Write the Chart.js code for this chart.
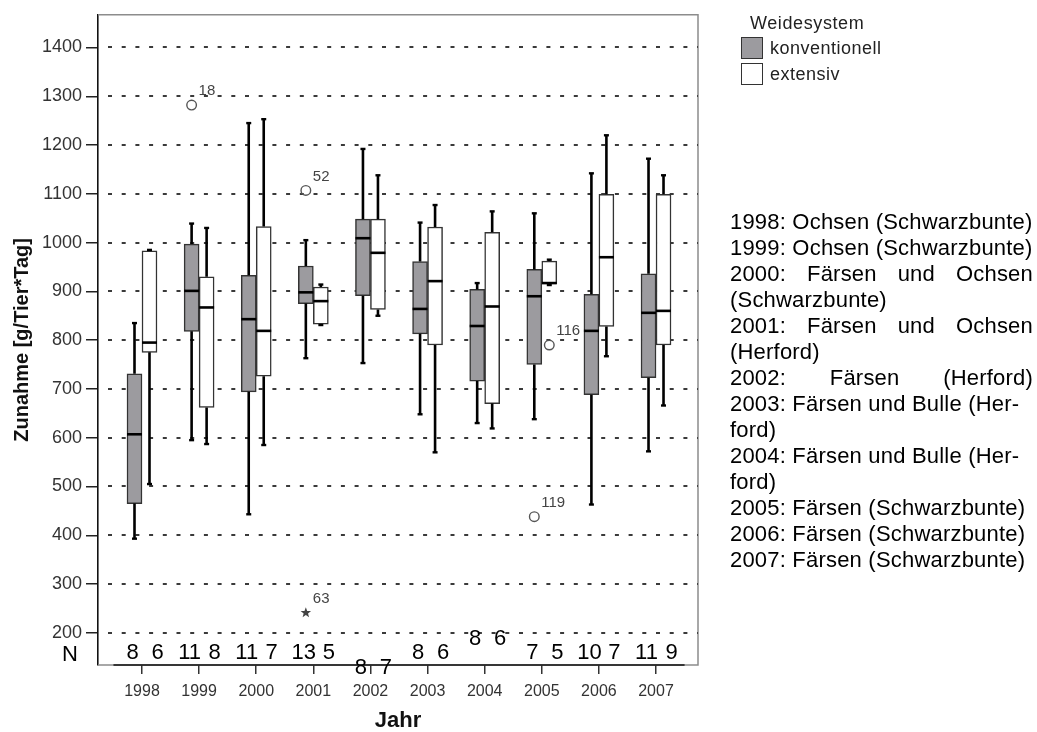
<!DOCTYPE html>
<html>
<head>
<meta charset="utf-8">
<script src="https://cdn.jsdelivr.net/npm/chart.js@4.4.0/dist/chart.umd.min.js"></script>
<style>
  html, body { margin: 0; padding: 0; background: #fff; }
  #wrap { position: relative; width: 1037px; height: 732px; font-family: "Liberation Sans", Arial, sans-serif; }
  #chart { position: absolute; left: 0; top: 0; }
  .legend-title { position: absolute; left: 750px; top: 13px; font-size: 18px; line-height: 20px; color: #222; letter-spacing: 0.6px; }
  .legend-row { position: absolute; left: 741px; height: 22px; font-size: 18px; line-height: 22px; color: #222; letter-spacing: 0.5px; }
  .legend-row .sw { position: absolute; left: 0; top: 0; width: 22px; height: 22px; box-sizing: border-box; border: 1.5px solid #333; }
  .legend-row span { position: absolute; left: 29px; top: 0; white-space: nowrap; }
  #notes { position: absolute; left: 730px; top: 209px; width: 303px; font-size: 22px; line-height: 26px; color: #000; letter-spacing: 0.2px; }
  #notes div { white-space: nowrap; }
  #notes div.j { text-align: justify; text-align-last: justify; }
</style>
</head>
<body>
<div id="wrap">
  <canvas id="chart" width="1037" height="732"></canvas>
  <div class="legend-title">Weidesystem</div>
  <div class="legend-row" style="top:37px"><div class="sw" style="background:#9c9b9f"></div><span>konventionell</span></div>
  <div class="legend-row" style="top:63px"><div class="sw" style="background:#fff"></div><span>extensiv</span></div>
  <div id="notes"></div>
</div>
<script>
// Jahre (x-Kategorien)
const years = ['1998', '1999', '2000', '2001', '2002', '2003', '2004', '2005', '2006', '2007'];

// Weidesystem konventionell
const konvMin    = [393, 595, 443, 763, 753, 648, 630, 638, 463, 572];
const konvQ1     = [465, 818, 694, 875, 891, 813, 716, 750, 688, 723];
const konvMedian = [607, 901, 843, 898, 1009, 864, 829, 890, 819, 856];
const konvQ3     = [731, 997, 933, 952, 1048, 961, 904, 945, 894, 936];
const konvMax    = [835, 1039, 1245, 1005, 1192, 1041, 917, 1060, 1142, 1172];
const konvN      = [8, 11, 11, 13, 8, 8, 8, 7, 10, 11];

// Weidesystem extensiv
const extMin    = [505, 587, 585, 831, 850, 570, 619, 913, 767, 666];
const extQ1     = [775, 662, 726, 833, 863, 790, 670, 916, 828, 790];
const extMedian = [795, 867, 819, 880, 979, 921, 869, 917, 970, 860];
const extQ3     = [983, 930, 1033, 909, 1048, 1032, 1021, 962, 1099, 1099];
const extMax    = [985, 1030, 1253, 914, 1138, 1077, 1064, 965, 1220, 1138];
const extN      = [6, 8, 7, 5, 7, 6, 6, 5, 7, 9];

// Ausreisser: Jahr, Gruppe (0 = konventionell, 1 = extensiv), Wert, Fallnummer, Symbol
const outlierYear  = ['1999', '2001', '2001', '2005', '2005'];
const outlierGroup = [0, 0, 0, 1, 0];
const outlierValue = [1282, 1107, 241, 790, 438];
const outlierCase  = ['18', '52', '63', '116', '119'];
const outlierKind  = ['circle', 'circle', 'star', 'circle', 'circle'];

const yTicks = [200, 300, 400, 500, 600, 700, 800, 900, 1000, 1100, 1200, 1300, 1400];

const noteLines = [
    ['1998: Ochsen (Schwarzbunte)', false],
    ['1999: Ochsen (Schwarzbunte)', false],
    ['2000: Färsen und Ochsen', true],
    ['(Schwarzbunte)', false],
    ['2001: Färsen und Ochsen', true],
    ['(Herford)', false],
    ['2002: Färsen (Herford)', true],
    ['2003: Färsen und Bulle (Her-', false],
    ['ford)', false],
    ['2004: Färsen und Bulle (Her-', false],
    ['ford)', false],
    ['2005: Färsen (Schwarzbunte)', false],
    ['2006: Färsen (Schwarzbunte)', false],
    ['2007: Färsen (Schwarzbunte)', false]
];

const notes = document.getElementById('notes');
noteLines.forEach(([text, justify]) => {
    const d = document.createElement('div');
    d.textContent = text;
    if (justify) d.className = 'j';
    notes.appendChild(d);
});

const FONT = '"Liberation Sans", Arial, sans-serif';
// N-Beschriftungen: kleine vertikale Verschiebung wie im Original
const nShift = [0, 0, 0, 0, 15, 0, -14, 0, 0, 0];

const groups = [
    { min: konvMin, q1: konvQ1, med: konvMedian, q3: konvQ3, max: konvMax, n: konvN },
    { min: extMin, q1: extQ1, med: extMedian, q3: extQ3, max: extMax, n: extN }
];

function drawStar(ctx, cx, cy, r) {
    ctx.beginPath();
    for (let k = 0; k < 10; k++) {
        const rad = k % 2 === 0 ? r : r * 0.42;
        const ang = -Math.PI / 2 + k * Math.PI / 5;
        const px = cx + rad * Math.cos(ang), py = cy + rad * Math.sin(ang);
        k === 0 ? ctx.moveTo(px, py) : ctx.lineTo(px, py);
    }
    ctx.closePath();
    ctx.fill();
}

const boxExtras = {
    id: 'boxExtras',
    beforeDatasetsDraw(chart) {
        const { ctx, chartArea: a, scales: { x, y } } = chart;
        ctx.save();
        // Rahmen oben / rechts
        ctx.strokeStyle = '#8c8c8c';
        ctx.lineWidth = 1.5;
        ctx.beginPath();
        ctx.moveTo(a.left, a.top);
        ctx.lineTo(a.right, a.top);
        ctx.lineTo(a.right, a.bottom);
        ctx.lineTo(a.left, a.bottom);
        ctx.stroke();
        // gepunktete Hilfslinien
        ctx.strokeStyle = '#3a3a3a';
        ctx.lineWidth = 2.2;
        ctx.setLineDash([4, 9.7]);
        y.ticks.forEach(t => {
            const py = Math.round(y.getPixelForValue(t.value));
            ctx.beginPath();
            ctx.moveTo(a.left + 10, py);
            ctx.lineTo(a.right, py);
            ctx.stroke();
        });
        ctx.setLineDash([]);
        // x-Achse ueber die Kategorien
        ctx.strokeStyle = '#111';
        ctx.lineWidth = 1.6;
        ctx.beginPath();
        ctx.moveTo(x.getPixelForValue(-0.5), a.bottom);
        ctx.lineTo(x.getPixelForValue(years.length - 0.5), a.bottom);
        ctx.stroke();
        ctx.restore();
    },
    afterDatasetsDraw(chart) {
        const { ctx, chartArea: a, scales: { y } } = chart;
        ctx.save();
        groups.forEach((g, d) => {
            const meta = chart.getDatasetMeta(d);
            meta.data.forEach((bar, i) => {
                const { x: cx, width: w } = bar.getProps(['x', 'width'], true);
                // Whisker
                ctx.strokeStyle = '#000';
                ctx.lineWidth = 2.6;
                ctx.beginPath();
                ctx.moveTo(cx, y.getPixelForValue(g.q3[i]));
                ctx.lineTo(cx, y.getPixelForValue(g.max[i]));
                ctx.moveTo(cx, y.getPixelForValue(g.q1[i]));
                ctx.lineTo(cx, y.getPixelForValue(g.min[i]));
                ctx.stroke();
                // Endstriche
                ctx.lineWidth = 2.4;
                [g.min[i], g.max[i]].forEach(v => {
                    const py = y.getPixelForValue(v);
                    ctx.beginPath();
                    ctx.moveTo(cx - 2.5, py);
                    ctx.lineTo(cx + 2.5, py);
                    ctx.stroke();
                });
                // Median
                ctx.lineWidth = 2.6;
                const pm = y.getPixelForValue(g.med[i]);
                ctx.beginPath();
                ctx.moveTo(cx - w / 2, pm);
                ctx.lineTo(cx + w / 2, pm);
                ctx.stroke();
                // N
                ctx.fillStyle = '#000';
                ctx.font = '22px ' + FONT;
                ctx.textAlign = 'center';
                ctx.textBaseline = 'middle';
                ctx.fillText(String(g.n[i]), cx + (d === 0 ? -2 : 8), a.bottom - 12 + nShift[i]);
            });
        });
        // Ausreisser
        outlierValue.forEach((v, k) => {
            const i = years.indexOf(outlierYear[k]);
            const bar = chart.getDatasetMeta(outlierGroup[k]).data[i];
            const px = bar.getProps(['x'], true).x;
            const py = y.getPixelForValue(v);
            ctx.strokeStyle = '#555';
            ctx.fillStyle = '#444';
            ctx.lineWidth = 1.4;
            if (outlierKind[k] === 'star') {
                drawStar(ctx, px, py, 5.5);
            } else {
                ctx.beginPath();
                ctx.arc(px, py, 4.8, 0, Math.PI * 2);
                ctx.stroke();
            }
            ctx.font = '15px ' + FONT;
            ctx.fillStyle = '#444';
            ctx.textAlign = 'left';
            ctx.textBaseline = 'middle';
            ctx.fillText(outlierCase[k], px + 7, py - 14);
        });
        // "N"
        ctx.font = '22px ' + FONT;
        ctx.fillStyle = '#000';
        ctx.textAlign = 'center';
        ctx.textBaseline = 'middle';
        ctx.fillText('N', 70, a.bottom - 10);
        ctx.restore();
    }
};

const ctx = document.getElementById('chart');
const boxData = (lo, hi) => years.map((_, i) => ({ x: i, y: [lo[i], hi[i]] }));

new Chart(ctx, {
    type: 'bar',
    data: {
        datasets: [{
            label: 'konventionell',
            data: boxData(konvQ1, konvQ3),
            backgroundColor: '#9c9b9f',
            borderColor: '#333',
            borderWidth: 1.5,
            borderSkipped: false,
            barThickness: 15
        }, {
            label: 'extensiv',
            data: boxData(extQ1, extQ3),
            backgroundColor: '#ffffff',
            borderColor: '#333',
            borderWidth: 1.5,
            borderSkipped: false,
            barThickness: 15
        }]
    },
    options: {
        responsive: false,
        animation: false,
        layout: { padding: { left: 0, right: 339, top: 9, bottom: 0 } },
        plugins: {
            legend: { display: false },
            tooltip: { enabled: false }
        },
        scales: {
            x: {
                type: 'linear',
                offset: false,
                min: -0.7704,
                max: 9.735,
                afterFit: s => { s.height = 67; },
                afterBuildTicks: s => { s.ticks = years.map((_, i) => ({ value: i })); },
                grid: { drawOnChartArea: false, offset: false, tickLength: 9, color: '#333', lineWidth: 1.5 },
                border: { display: false },
                ticks: {
                    callback: v => years[v],
                    color: '#333',
                    padding: 8,
                    maxRotation: 0,
                    autoSkip: false,
                    font: { family: FONT, size: 16 }
                },
                title: {
                    display: true,
                    text: 'Jahr',
                    color: '#111',
                    padding: { top: 0, bottom: 0 },
                    font: { family: FONT, size: 22, weight: 'bold', lineHeight: 1 }
                }
            },
            y: {
                min: 134,
                max: 1467,
                afterFit: s => { s.width = 98; },
                afterBuildTicks: s => { s.ticks = yTicks.map(v => ({ value: v })); },
                grid: { drawOnChartArea: false, tickLength: 12, color: '#222', lineWidth: 1.5 },
                border: { display: true, color: '#111', width: 1.6 },
                ticks: {
                    callback: v => String(v),
                    color: '#333',
                    padding: 4,
                    font: { family: FONT, size: 18 }
                },
                title: {
                    display: true,
                    text: 'Zunahme [g/Tier*Tag]',
                    color: '#111',
                    padding: { top: 10, bottom: 0 },
                    font: { family: FONT, size: 20, weight: 'bold' }
                }
            }
        }
    },
    plugins: [boxExtras]
});
</script>
</body>
</html>
